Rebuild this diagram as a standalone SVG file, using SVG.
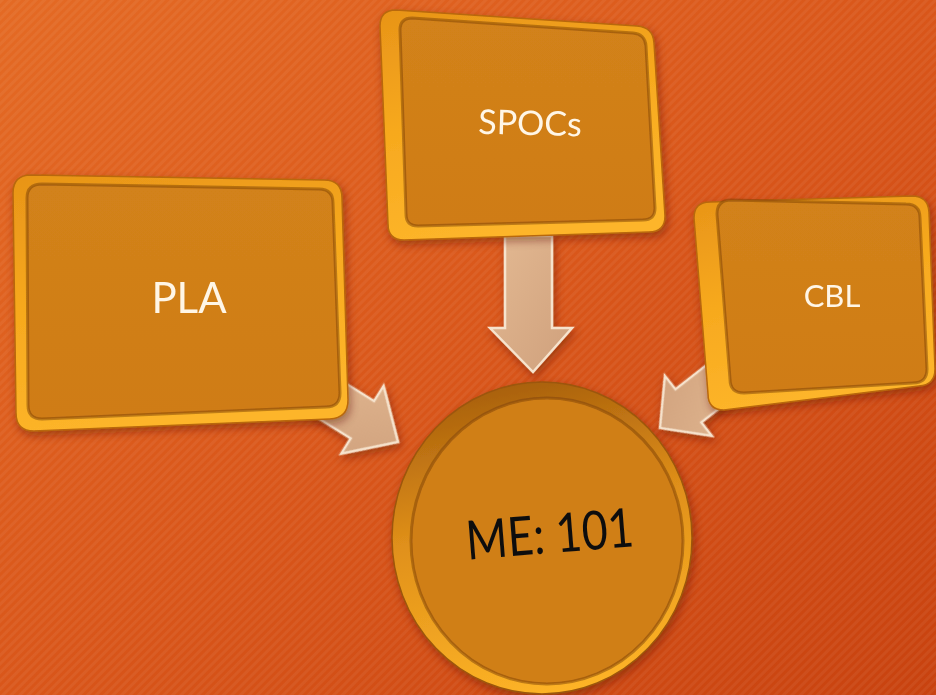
<svg xmlns="http://www.w3.org/2000/svg" width="936" height="695" viewBox="0 0 936 695">
<defs>
<linearGradient id="bg" x1="0" y1="0" x2="1" y2="1">
<stop offset="0" stop-color="#E46A24"/>
<stop offset="0.5" stop-color="#D9561A"/>
<stop offset="1" stop-color="#C8420F"/>
</linearGradient>
<pattern id="stripes" width="6" height="6" patternUnits="userSpaceOnUse" patternTransform="rotate(-45)">
<rect width="6" height="3" fill="#ffffff" opacity="0.05"/>
</pattern>
<linearGradient id="rim" x1="0" y1="0" x2="0.3" y2="1">
<stop offset="0" stop-color="#E89418"/>
<stop offset="0.5" stop-color="#F7A91E"/>
<stop offset="1" stop-color="#FDB52A"/>
</linearGradient>
<linearGradient id="face" x1="0" y1="0" x2="0" y2="1">
<stop offset="0" stop-color="#D2821A"/>
<stop offset="1" stop-color="#CF7C17"/>
</linearGradient>
<linearGradient id="crim" x1="0.3" y1="0" x2="0.5" y2="1">
<stop offset="0" stop-color="#A65E0C"/>
<stop offset="0.45" stop-color="#E0901A"/>
<stop offset="1" stop-color="#FDB326"/>
</linearGradient>
<linearGradient id="arr" x1="0" y1="0" x2="1" y2="1">
<stop offset="0" stop-color="#E3B992"/>
<stop offset="1" stop-color="#CFA07C"/>
</linearGradient>
<filter id="sh" x="-10%" y="-10%" width="120%" height="125%">
<feDropShadow dx="2" dy="4" stdDeviation="4" flood-color="#5a1c00" flood-opacity="0.45"/>
</filter>
</defs>
<style>
.rim{fill:url(#rim);stroke:#B8670C;stroke-width:1.5;}
.face{fill:url(#face);stroke:#7E4206;stroke-width:3;stroke-opacity:0.5;}
.lbl{font-family:Lato,"Open Sans","Liberation Sans",sans-serif;fill:#FFF6E6;text-anchor:middle;}
.arrow{fill:url(#arr);stroke:#F6E3CD;stroke-width:2.5;stroke-linejoin:miter;}
</style>
<rect width="936" height="695" fill="url(#bg)"/>
<rect width="936" height="695" fill="url(#stripes)"/>

<g id="connectors" filter="url(#sh)">
<polygon class="arrow" points="505,236 552,236 552,328 572,328 533,372 490,328 505,328"/>
<polygon class="arrow" transform="translate(398,442) rotate(32)" points="0,0 -42,-40 -42,-22 -115,-22 -115,22 -42,22 -42,40"/>
<polygon class="arrow" transform="translate(660,428) rotate(142)" points="0,0 -36,-38 -36,-21 -105,-21 -105,21 -36,21 -36,38"/>
</g>

<g id="node-pla" filter="url(#sh)">
<path class="rim" d="M31,175 L324,180 Q342,180 342,198 L348,400 Q348,418 330,419 L34,431 Q16,431 16,413 L13,193 Q13,175 31,175 Z"/>
<path class="face" d="M42,184 L319,189 Q333,189 333,203 L340,393 Q340,407 326,407 L42,419 Q28,419 28,405 L27,198 Q27,184 42,184 Z"/>
<text class="lbl" x="189" y="313" font-size="42">PLA</text>
</g>

<g id="node-spocs" filter="url(#sh)">
<path class="rim" d="M396,10 L637,26 Q653,27 654,43 L665,216 Q665,232 649,232 L404,240 Q388,240 388,224 L380,26 Q380,10 396,10 Z"/>
<path class="face" d="M412,18 L633,33 Q645,34 646,46 L655,208 Q655,220 643,220 L418,226 Q406,226 406,214 L400,30 Q400,18 412,18 Z"/>
<text class="lbl" x="530" y="135" font-size="34" transform="rotate(1.5 530 125)">SPOCs</text>
</g>

<g id="node-cbl" filter="url(#sh)">
<path class="rim" d="M710,202 L912,196 Q928,196 929,212 L935,369 Q935,385 919,386 L724,410 Q708,410 708,394 L694,218 Q694,202 710,202 Z"/>
<path class="face" d="M731,200 L906,204 Q920,204 920,218 L927,369 Q927,383 913,383 L744,393 Q730,393 730,379 L717,214 Q717,200 731,200 Z"/>
<text class="lbl" x="832" y="307" font-size="31">CBL</text>
</g>

<g id="node-me101" filter="url(#sh)">
<ellipse cx="542" cy="538" rx="150" ry="156" fill="url(#crim)" stroke="#9C560A" stroke-width="1.5"/>
<ellipse cx="547" cy="541" rx="136" ry="143" fill="#D07F18" stroke="#7E4206" stroke-width="3" stroke-opacity="0.5"/>
<text x="550" y="553" font-family="Lato,'Open Sans','Liberation Sans',sans-serif" font-size="54" fill="#111111" text-anchor="middle" textLength="168" lengthAdjust="spacingAndGlyphs" transform="rotate(-4.6 550 538)">ME: 101</text>
</g>
</svg>
